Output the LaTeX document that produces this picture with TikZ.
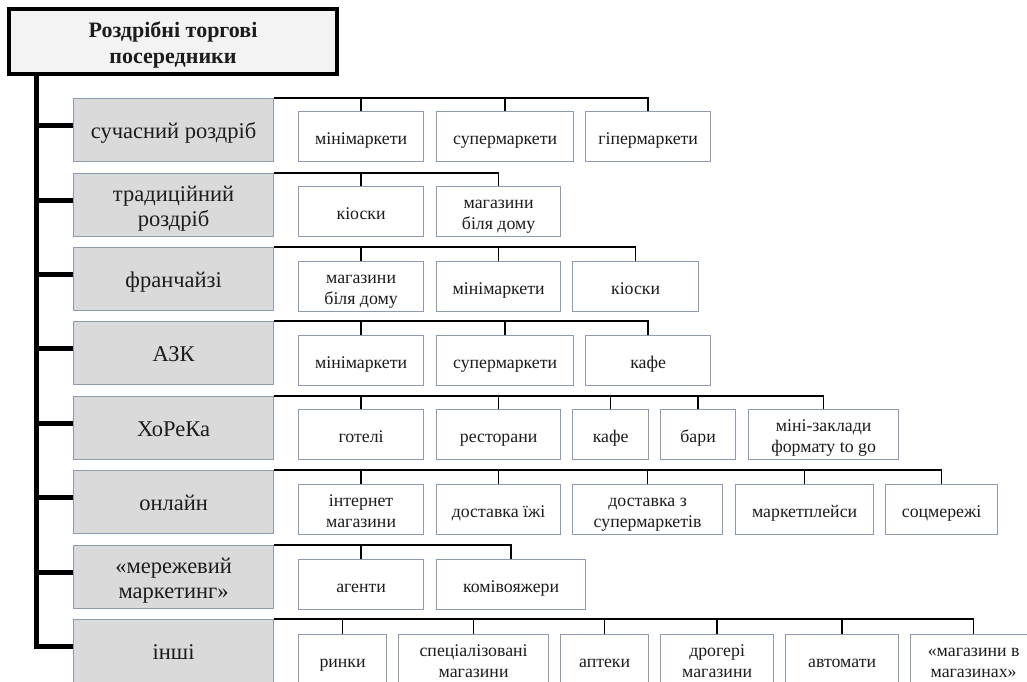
\documentclass[tikz,border=0pt]{standalone}
\usepackage{fontspec}
\setmainfont{Liberation Serif}
\usetikzlibrary{calc}
\definecolor{boxline}{RGB}{140,155,176}
\definecolor{catfill}{RGB}{218,218,218}
\definecolor{titlefill}{RGB}{243,243,243}
\definecolor{txt}{RGB}{28,28,28}
\newcommand\twoln[2]{\rule{0pt}{\baselineskip}#1\\#2\strut}

\begin{document}
\begin{tikzpicture}[x=1pt,y=-1pt,
        every node/.append style={execute at begin node=\strut,execute at end node=\strut},
        titlebox/.style={draw=black,line width=3.5pt,fill=titlefill,minimum width=328pt,minimum height=65pt,inner sep=1pt,align=center,text=txt,font=\fontsize{22}{26}\selectfont\bfseries},
        catbox/.style={draw=boxline,line width=1.2pt,fill=catfill,minimum width=200pt,minimum height=63pt,inner sep=1pt,anchor=north west,align=center,text=txt,font=\fontsize{22.5}{25}\selectfont,execute at begin node={\rule{0pt}{25pt}}},
        subbox/.style={draw=boxline,line width=1.2pt,fill=white,minimum height=50pt,inner xsep=1pt,inner ysep=0pt,anchor=north west,align=center,text=txt,font=\fontsize{17.8}{21}\selectfont,execute at begin node={\rule{0pt}{22.7pt}}},
        link/.style={line width=1.5pt,black},
        spine/.style={line width=5pt,black}]
            \useasboundingbox (0,0) rectangle (1027,681);

            \node[titlebox] (title) at (173,41.5) {\twoln{Роздрібні торгові}{посередники}};
            \coordinate (sp) at (36,74);

            \foreach \y/\i/\lbl in {98/1/{сучасний роздріб},173/2/{\twoln{традиційний}{роздріб}},247/3/франчайзі,321/4/АЗК,
                                   396/5/ХоРеКа,470/6/онлайн,545/7/{\twoln{«мережевий}{маркетинг»}},619/8/інші} {
            \node[catbox] (r\i) at (73,\y) {\lbl};
            \draw[spine] ([yshift=5pt]r\i.west) -- ([yshift=5pt]r\i.west -| sp);}

            \draw[spine] (title.south -| sp) |- ([yshift=5pt]r8.west);

            \foreach \x/\w/\n/\lbl in {298/125/a/мінімаркети,436/137/b/супермаркети,585/125/c/гіпермаркети} {
            \node[subbox,minimum width=\w pt] (r1\n) at (\x,111) {\lbl};
            \draw[link] (r1\n.north) -- (r1\n.north |- r1.north);}
            \draw[link] (r1.north east) -| (r1c.north);

            \foreach \x/\w/\n/\lbl in {298/125/a/кіоски,436/124/b/{\twoln{магазини}{біля дому}}} {
            \node[subbox,minimum width=\w pt] (r2\n) at (\x,186) {\lbl};
            \draw[link] (r2\n.north) -- (r2\n.north |- r2.north);}
            \draw[link] (r2.north east) -| (r2b.north);

            \foreach \x/\w/\n/\lbl in {298/125/a/{\twoln{магазини}{біля дому}},436/124/b/мінімаркети,572/126/c/кіоски} {
            \node[subbox,minimum width=\w pt] (r3\n) at (\x,261) {\lbl};
            \draw[link] (r3\n.north) -- (r3\n.north |- r3.north);}
            \draw[link] (r3.north east) -| (r3c.north);

            \foreach \x/\w/\n/\lbl in {298/125/a/мінімаркети,436/137/b/супермаркети,585/125/c/кафе} {
            \node[subbox,minimum width=\w pt] (r4\n) at (\x,335) {\lbl};
            \draw[link] (r4\n.north) -- (r4\n.north |- r4.north);}
            \draw[link] (r4.north east) -| (r4c.north);

            \foreach \x/\w/\n/\lbl in {298/125/a/готелі,436/124/b/ресторани,572/76/c/кафе,660/75/d/бари,748/150/e/{\twoln{міні-заклади}{формату to go}}} {
            \node[subbox,minimum width=\w pt] (r5\n) at (\x,409) {\lbl};
            \draw[link] (r5\n.north) -- (r5\n.north |- r5.north);}
            \draw[link] (r5.north east) -| (r5e.north);

            \foreach \x/\w/\n/\lbl in {298/125/a/{\twoln{інтернет}{магазини}},436/124/b/доставка їжі,572/150/c/{\twoln{доставка з}{супермаркетів}},735/138/d/маркетплейси,885/112/e/соцмережі} {
            \node[subbox,minimum width=\w pt] (r6\n) at (\x,484) {\lbl};
            \draw[link] (r6\n.north) -- (r6\n.north |- r6.north);}
            \draw[link] (r6.north east) -| (r6e.north);

            \foreach \x/\w/\n/\lbl in {298/125/a/агенти,436/149/b/комівояжери} {
            \node[subbox,minimum width=\w pt] (r7\n) at (\x,559) {\lbl};
            \draw[link] (r7\n.north) -- (r7\n.north |- r7.north);}
            \draw[link] (r7.north east) -| (r7b.north);

            \foreach \x/\w/\n/\lbl in {298/88/a/ринки,398/150/b/{\twoln{спеціалізовані}{магазини}},560/88/c/аптеки,660/113/d/{\twoln{дрогері}{магазини}},785/113/e/автомати,910/126/f/{\twoln{«магазини в}{магазинах»}}} {
            \node[subbox,minimum width=\w pt] (r8\n) at (\x,634) {\lbl};
            \draw[link] (r8\n.north) -- (r8\n.north |- r8.north);}
            \draw[link] (r8.north east) -| (r8f.north);
        \end{tikzpicture}
\end{document}
